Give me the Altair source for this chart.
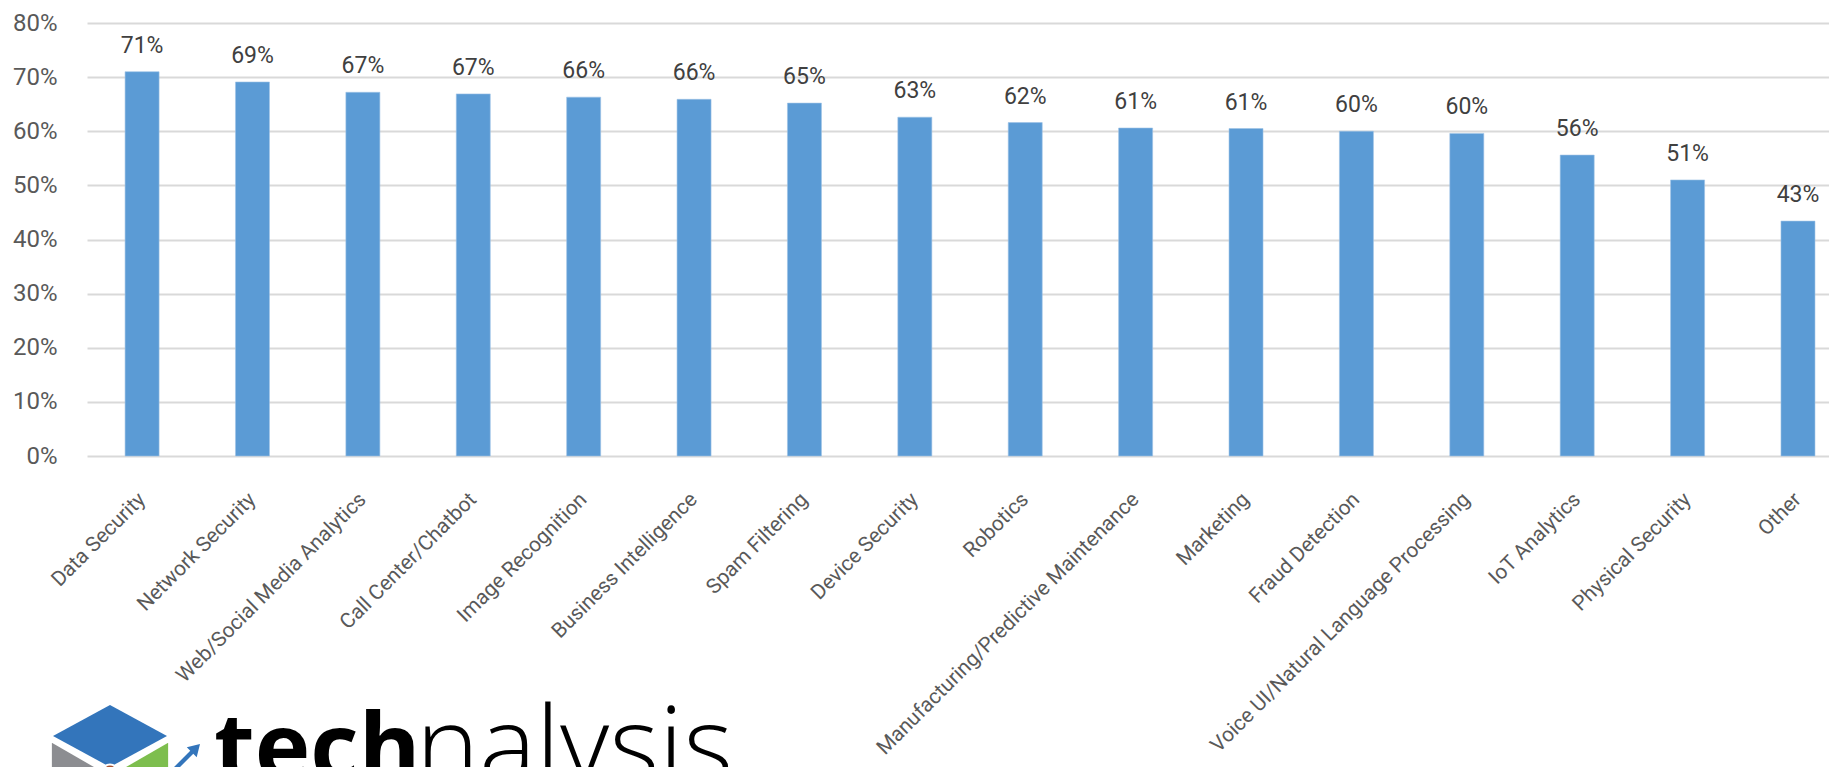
import altair as alt
import pandas as pd

categories = [
    "Data Security", "Network Security", "Web/Social Media Analytics",
    "Call Center/Chatbot", "Image Recognition", "Business Intelligence",
    "Spam Filtering", "Device Security", "Robotics",
    "Manufacturing/Predictive Maintenance", "Marketing", "Fraud Detection",
    "Voice UI/Natural Language Processing", "IoT Analytics",
    "Physical Security", "Other",
]
values = [0.710, 0.691, 0.672, 0.669, 0.663, 0.659, 0.652, 0.626, 0.616,
          0.606, 0.605, 0.600, 0.596, 0.556, 0.510, 0.434]
y_ticks = [0, 0.1, 0.2, 0.3, 0.4, 0.5, 0.6, 0.7, 0.8]

FONT = "Roboto"

df = pd.DataFrame({"cat": categories, "val": values})

xenc = alt.X(
    "cat:N", sort=None, title=None,
    scale=alt.Scale(paddingInner=0.692, paddingOuter=0.236, align=0.731),
    axis=alt.Axis(labelAngle=-45, labelAlign="right", labelBaseline="top",
                  labelPadding=33, labelOffset=-7, ticks=False, tickSize=0,
                  domain=False, labelFont=FONT, labelFontSize=20.8,
                  labelColor="#595959", labelLimit=1000, labelOverlap=False),
)
yenc = alt.Y(
    "val:Q", title=None,
    scale=alt.Scale(domain=[0, 0.8], nice=False),
    axis=alt.Axis(values=y_ticks, format=".0%", ticks=False, tickSize=0,
                  domain=False, grid=True, gridColor="#d9d9d9", gridWidth=2,
                  labelPadding=30, labelFont=FONT, labelFontSize=24,
                  labelColor="#595959"),
)

base = alt.Chart(df)
bars = base.mark_bar(color="#5B9BD5", stroke="#9DC3E6", strokeWidth=0.6).encode(x=xenc, y=yenc)
labels = base.mark_text(baseline="alphabetic", dy=-19, font=FONT, fontSize=23,
                        color="#404040").encode(
    x=alt.X("cat:N", sort=None),
    y=alt.Y("val:Q"),
    text=alt.Text("val:Q", format=".0%"),
)

# logo (decoration)
one = pd.DataFrame({"tech": ["tech"], "rest": ["nalysis"]})
logo_base = alt.Chart(one)
diamond = logo_base.mark_point(
    shape="M-1,0L0,-0.544L1,0L0,0.544Z", filled=True, color="#3375BB",
    size=12996, opacity=1, strokeWidth=0).encode(x=alt.value(23), y=alt.value(713))
gray = logo_base.mark_point(
    shape="M-1.02,0.12L-0.08,0.66L-0.08,1.2L-1.02,0.7Z", filled=True,
    color="#8C8D91", size=12996, opacity=1, strokeWidth=0).encode(x=alt.value(23), y=alt.value(713))
green = logo_base.mark_point(
    shape="M0.08,0.66L1.02,0.12L1.02,0.7L0.08,1.2Z", filled=True,
    color="#7DBE4E", size=12996, opacity=1, strokeWidth=0).encode(x=alt.value(23), y=alt.value(713))
dot = logo_base.mark_point(shape="circle", filled=True, color="#A9522F",
                           size=220, opacity=1, stroke="white", strokeWidth=2).encode(
    x=alt.value(23), y=alt.value(749))
arrow = logo_base.mark_point(
    shape="M-1,0.8L0.35,-0.55L0.12,-0.78L1,-1L0.78,-0.12L0.55,-0.35L-0.8,1Z",
    filled=True, color="#3375BB", size=900, opacity=1, strokeWidth=0).encode(
    x=alt.value(98), y=alt.value(736))
tech = logo_base.mark_text(align="left", baseline="alphabetic", font="Open Sans",
                           fontWeight="bold", fontSize=94, color="#000000").encode(
    x=alt.value(127), y=alt.value(757), text="tech:N")
rest = logo_base.mark_text(align="left", baseline="alphabetic", font="Open Sans",
                           fontWeight=300, fontSize=107, color="#000000").encode(
    x=alt.value(329), y=alt.value(760), text="rest:N")

chart = alt.layer(bars, labels, gray, green, diamond, dot, arrow, tech, rest).properties(
    width=1742, height=433,
    autosize=alt.AutoSizeParams(type="none"),
    padding={"left": 79, "top": 15, "right": 0, "bottom": 311},
    background="white",
).configure_view(stroke=None)

chart.save("out.html", embed_options={"renderer": "svg", "actions": False})
